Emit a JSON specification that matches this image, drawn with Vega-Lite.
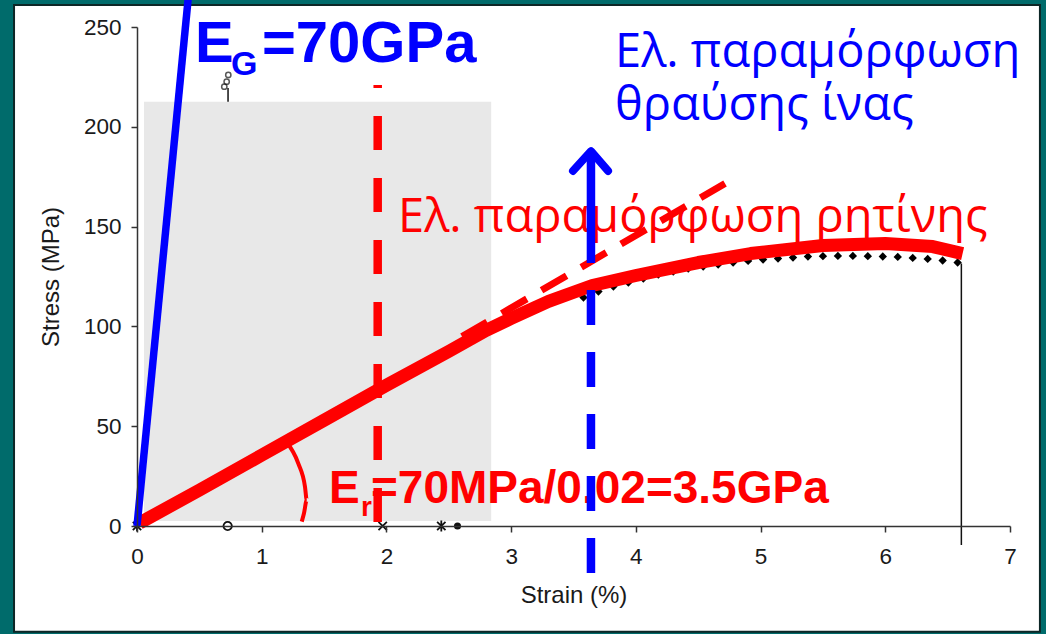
{
  "$schema": "https://vega.github.io/schema/vega-lite/v6.json",
  "width": 873,
  "height": 499,
  "autosize": {"type": "none"},
  "padding": {"left": 137, "top": 27, "right": 36, "bottom": 108},
  "background": "#006b6b",
  "config": {
    "view": {"stroke": null},
    "axis": {
      "domainColor": "#333333", "tickColor": "#333333", "domainWidth": 1.5, "tickWidth": 1.5,
      "labelFont": "Liberation Sans", "labelFontSize": 22.5, "labelColor": "#1a1a1a",
      "titleFont": "Liberation Sans", "titleFontSize": 24, "titleFontWeight": "normal", "titleColor": "#1a1a1a",
      "grid": false, "tickSize": 6, "labelFlush": false
    }
  },
  "datasets": {
    "resin": [
      {"s": 0.02, "v": 1.5}, {"s": 0.5, "v": 18}, {"s": 1.0, "v": 35.5}, {"s": 1.5, "v": 53},
      {"s": 2.0, "v": 70.5}, {"s": 2.5, "v": 87.5}, {"s": 2.8, "v": 98}, {"s": 3.0, "v": 104},
      {"s": 3.3, "v": 112.5}, {"s": 3.65, "v": 120.5}, {"s": 4.0, "v": 125.5}, {"s": 4.5, "v": 132},
      {"s": 4.92, "v": 136.5}, {"s": 5.5, "v": 140.5}, {"s": 6.0, "v": 141.5}, {"s": 6.38, "v": 140},
      {"s": 6.62, "v": 136.5}
    ],
    "diamonds": [
      {"s": 3.58, "v": 114.5}, {"s": 3.70, "v": 117.5}, {"s": 3.82, "v": 120}, {"s": 3.94, "v": 122},
      {"s": 4.06, "v": 124}, {"s": 4.18, "v": 126}, {"s": 4.30, "v": 127.5}, {"s": 4.42, "v": 129},
      {"s": 4.54, "v": 130}, {"s": 4.66, "v": 131}, {"s": 4.78, "v": 132}, {"s": 4.90, "v": 132.8},
      {"s": 5.02, "v": 133.5}, {"s": 5.14, "v": 134}, {"s": 5.26, "v": 134.5}, {"s": 5.38, "v": 135},
      {"s": 5.50, "v": 135.2}, {"s": 5.62, "v": 135.3}, {"s": 5.74, "v": 135.3}, {"s": 5.86, "v": 135.2},
      {"s": 5.98, "v": 135}, {"s": 6.10, "v": 134.8}, {"s": 6.22, "v": 134.3}, {"s": 6.34, "v": 133.8},
      {"s": 6.46, "v": 133}, {"s": 6.58, "v": 132}
    ],
    "arc": [
      {"o": 1, "s": 1.197, "v": 42.2}, {"o": 2, "s": 1.293, "v": 31.4}, {"o": 3, "s": 1.347, "v": 19.7},
      {"o": 4, "s": 1.361, "v": 13}, {"o": 5, "s": 1.339, "v": 6.4}, {"o": 6, "s": 1.321, "v": 2.2}
    ]
  },
  "encoding": {
    "x": {
      "field": "s", "type": "quantitative",
      "scale": {"domain": [0, 7], "nice": false, "zero": false},
      "axis": {"values": [0, 1, 2, 3, 4, 5, 6, 7], "title": "Strain (%)", "labelPadding": 13, "titlePadding": 16, "zindex": 1}
    },
    "y": {
      "field": "v", "type": "quantitative",
      "scale": {"domain": [0, 250], "nice": false, "zero": false},
      "axis": {"values": [0, 50, 100, 150, 200, 250], "title": "Stress (MPa)", "labelPadding": 10, "titlePadding": 20, "zindex": 1}
    }
  },
  "layer": [
    {
      "data": {"values": [{"s": -0.986, "s2": 7.24, "v": 261, "v2": -53}]},
      "mark": {"type": "rect", "fill": "white", "stroke": "#0d2626", "strokeWidth": 2},
      "encoding": {"x2": {"field": "s2"}, "y2": {"field": "v2"}}
    },
    {
      "data": {"values": [{"s": 0.056, "s2": 2.84, "v": 2.5, "v2": 212.6}]},
      "mark": {"type": "rect", "fill": "#e8e8e8"},
      "encoding": {"x2": {"field": "s2"}, "y2": {"field": "v2"}}
    },
    {
      "data": {"values": [{"s": 0.73, "v": 212.6, "v2": 219.5}, {"s": 6.61, "v": 131.5, "v2": -9.5}]},
      "mark": {"type": "rule", "color": "#111111", "strokeWidth": 1.5},
      "encoding": {"y2": {"field": "v2"}}
    },
    {
      "data": {"values": [{"s": 0.70, "v": 220.1}, {"s": 0.719, "v": 222.6}, {"s": 0.732, "v": 226}]},
      "mark": {"type": "point", "shape": "circle", "filled": false, "stroke": "#111111", "strokeWidth": 1.5, "size": 28}
    },
    {
      "data": {"name": "diamonds"},
      "mark": {"type": "point", "shape": "diamond", "filled": true, "fill": "#000000", "opacity": 1, "strokeWidth": 0, "size": 70}
    },
    {
      "data": {"values": [
        {"s": 0.0, "v": 0, "m": "ast"}, {"s": 0.727, "v": 0, "m": "circ"}, {"s": 1.97, "v": 0, "m": "x"},
        {"s": 2.44, "v": 0, "m": "ast"}
      ]},
      "mark": {"type": "point", "filled": false, "stroke": "#111111", "strokeWidth": 1.8, "size": 70, "opacity": 1},
      "encoding": {
        "shape": {"field": "m", "type": "nominal", "legend": null,
          "scale": {"domain": ["ast", "circ", "x"], "range": ["M-1,-1L1,1M-1,1L1,-1M0,-1.3L0,1.3", "circle", "M-1,-1L1,1M-1,1L1,-1"]}}
      }
    },
    {
      "data": {"values": [{"s": 2.36, "v": 0, "m": "sq"}, {"s": 2.57, "v": 0, "m": "tri"}]},
      "mark": {"type": "point", "filled": true, "fill": "#111111", "opacity": 1, "strokeWidth": 0, "size": 50},
      "encoding": {
        "shape": {"field": "m", "type": "nominal", "legend": null,
          "scale": {"domain": ["sq", "tri"], "range": ["square", "triangle-up"]}}
      }
    },
    {
      "data": {"name": "resin"},
      "mark": {"type": "line", "color": "#ff0000", "strokeWidth": 13, "strokeCap": "butt", "strokeJoin": "round"}
    },
    {
      "data": {"values": [{"s": 2.606, "v": 94.9}, {"s": 4.715, "v": 171.6}]},
      "mark": {"type": "line", "color": "#ff0000", "strokeWidth": 7, "strokeDash": [29, 17]}
    },
    {
      "data": {"name": "arc"},
      "mark": {"type": "line", "color": "#ff0000", "strokeWidth": 4, "interpolate": "monotone"},
      "encoding": {"order": {"field": "o", "type": "quantitative"}}
    },
    {
      "data": {"values": [{"s": 0, "v": 0}, {"s": 0.41, "v": 264}]},
      "mark": {"type": "line", "color": "#0000ff", "strokeWidth": 7.5}
    },
    {
      "data": {"values": [{"s": 1.93, "v": 2, "v2": 221}]},
      "mark": {"type": "rule", "color": "#ff0000", "strokeWidth": 8.5, "strokeDash": [34, 28]},
      "encoding": {"y2": {"field": "v2"}}
    },
    {
      "data": {"values": [{"s": 2.093, "v": 147.3, "t": "Ελ. παραμόρφωση ρητίνης"}]},
      "mark": {"type": "text", "font": "Open Sans", "fontSize": 47, "fill": "#ff0000", "align": "left", "baseline": "alphabetic"},
      "encoding": {"text": {"field": "t"}}
    },
    {
      "data": {"values": [{"s": 3.833, "v": 230, "t": "Ελ. παραμόρφωση"}, {"s": 3.833, "v": 203.4, "t": "θραύσης ίνας"}]},
      "mark": {"type": "text", "font": "Open Sans", "fontSize": 47, "fill": "#0000ff", "align": "left", "baseline": "alphabetic"},
      "encoding": {"text": {"field": "t"}}
    },
    {
      "data": {"values": [{"s": 0.465, "v": 232.5, "t": "E"}, {"s": 1.002, "v": 232.5, "t": "=70GPa"}]},
      "mark": {"type": "text", "font": "Liberation Sans", "fontWeight": "bold", "fontSize": 58, "fill": "#0000ff", "align": "left", "baseline": "alphabetic"},
      "encoding": {"text": {"field": "t"}}
    },
    {
      "data": {"values": [{"s": 0.754, "v": 226, "t": "G"}]},
      "mark": {"type": "text", "font": "Liberation Sans", "fontWeight": "bold", "fontSize": 34, "fill": "#0000ff", "align": "left", "baseline": "alphabetic"},
      "encoding": {"text": {"field": "t"}}
    },
    {
      "data": {"values": [{"s": 1.54, "v": 11.3, "t": "E"}, {"s": 1.876, "v": 11.3, "t": "=70MPa/0.02=3.5GPa"}]},
      "mark": {"type": "text", "font": "Liberation Sans", "fontWeight": "bold", "fontSize": 46, "fill": "#ff0000", "align": "left", "baseline": "alphabetic"},
      "encoding": {"text": {"field": "t"}}
    },
    {
      "data": {"values": [{"s": 1.796, "v": 5, "t": "r"}]},
      "mark": {"type": "text", "font": "Liberation Sans", "fontWeight": "bold", "fontSize": 28, "fill": "#ff0000", "align": "left", "baseline": "alphabetic"},
      "encoding": {"text": {"field": "t"}}
    },
    {
      "data": {"values": [{"s": 3.64, "v": -23.5, "v2": 131.8}]},
      "mark": {"type": "rule", "color": "#0000ff", "strokeWidth": 8.5, "strokeDash": [35, 27]},
      "encoding": {"y2": {"field": "v2"}}
    },
    {
      "data": {"values": [{"s": 3.64, "v": 131.8, "v2": 187}]},
      "mark": {"type": "rule", "color": "#0000ff", "strokeWidth": 8.5},
      "encoding": {"y2": {"field": "v2"}}
    },
    {
      "data": {"values": [{"s": 3.496, "v": 177.9}, {"s": 3.64, "v": 187.8}, {"s": 3.777, "v": 177.9}]},
      "mark": {"type": "line", "color": "#0000ff", "strokeWidth": 8, "strokeCap": "round", "strokeJoin": "round"}
    }
  ]
}
